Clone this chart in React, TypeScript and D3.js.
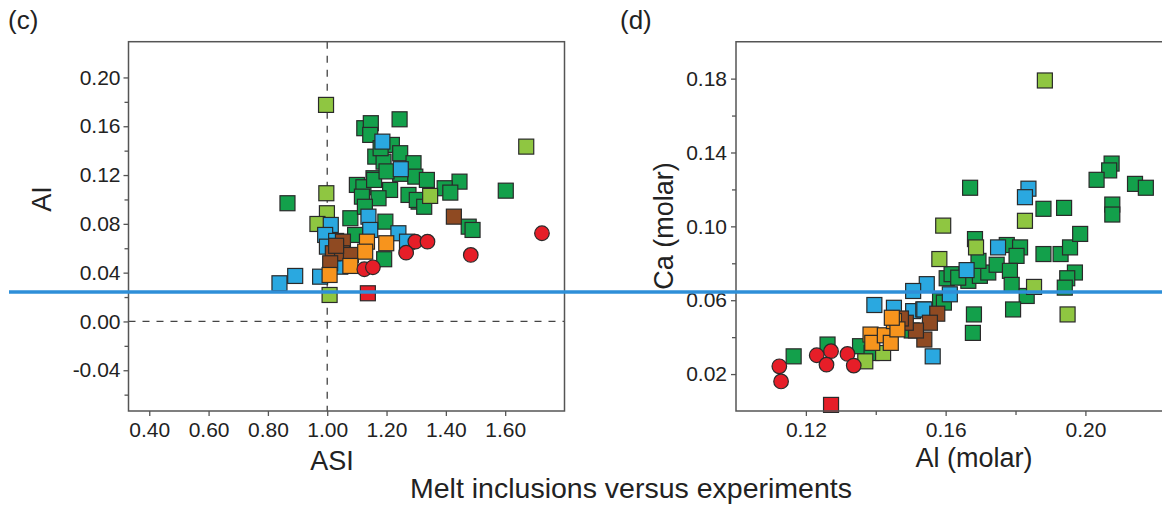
import React, { useEffect, useRef } from 'react';
import * as d3 from 'd3';

// ---- panel (c): ASI vs AI ----
const cDarkGreen: [number, number][] = [
  [0.866, 0.0969], [1.244, 0.1657], [1.125, 0.1584], [1.147, 0.1625], [1.145, 0.1529],
  [1.218, 0.1447], [1.246, 0.1379], [1.162, 0.1351], [1.19, 0.131], [1.291, 0.1297],
  [1.246, 0.121], [1.297, 0.1187], [1.336, 0.116], [1.156, 0.1174], [1.1, 0.1119],
  [1.122, 0.11], [1.212, 0.1078], [1.274, 0.1037], [1.173, 0.101], [1.117, 0.1023],
  [1.308, 0.0982], [1.446, 0.1146], [1.396, 0.1092], [1.415, 0.1056], [1.602, 0.1072],
  [1.477, 0.0777], [1.49, 0.075], [1.078, 0.0846], [1.196, 0.0818], [1.094, 0.0709],
  [1.192, 0.051], [1.158, 0.116], [1.2, 0.123], [1.302, 0.0996], [1.327, 0.094],
  [1.127, 0.094], [1.18, 0.142],
];
const cLightGreen: [number, number][] = [
  [0.996, 0.1775], [0.997, 0.1051], [0.999, 0.0887], [0.967, 0.0799], [1.347, 0.1029],
  [1.671, 0.1433], [1.008, 0.0217],
];
const cBlue: [number, number][] = [
  [1.186, 0.1474], [1.248, 0.1248], [1.139, 0.0859], [1.012, 0.0791], [1.145, 0.075],
  [0.993, 0.0709], [0.999, 0.0613], [1.24, 0.0723], [1.269, 0.0654], [0.976, 0.0367],
  [0.892, 0.0373], [0.839, 0.0313], [1.044, 0.0449], [1.03, 0.066],
];
const cBrown: [number, number][] = [
  [1.427, 0.0859], [1.053, 0.0654], [1.019, 0.0559], [1.05, 0.0559], [1.08, 0.0545],
  [1.01, 0.0477], [1.03, 0.062],
];
const cOrange: [number, number][] = [
  [1.134, 0.0654], [1.199, 0.0641], [1.128, 0.0572], [1.078, 0.0455], [1.008, 0.0381],
];
const cRedSquare: [number, number][] = [[1.137, 0.0231]];
const cRedCircle: [number, number][] = [
  [1.297, 0.0654], [1.338, 0.0654], [1.266, 0.0564], [1.125, 0.0428], [1.154, 0.0444],
  [1.484, 0.0545], [1.724, 0.0723],
];

// ---- panel (d): Al (molar) vs Ca (molar) ----
const dDarkGreen: [number, number][] = [
  [0.1165, 0.0296], [0.1262, 0.036], [0.1355, 0.0351], [0.1388, 0.0314], [0.1603, 0.0719],
  [0.1617, 0.0741], [0.1584, 0.0596], [0.1665, 0.0705], [0.1698, 0.0732], [0.1722, 0.075],
  [0.1746, 0.0792], [0.1694, 0.0813], [0.1684, 0.0931], [0.167, 0.1209], [0.1775, 0.0899],
  [0.1813, 0.0886], [0.1803, 0.084], [0.1784, 0.0759], [0.1789, 0.0683], [0.1832, 0.0623],
  [0.1793, 0.055], [0.1681, 0.0523], [0.1678, 0.0423], [0.188, 0.085], [0.1929, 0.085],
  [0.1956, 0.0886], [0.1985, 0.0959], [0.197, 0.075], [0.1948, 0.0719], [0.1941, 0.0668],
  [0.188, 0.1095], [0.1939, 0.11], [0.2077, 0.1118], [0.2077, 0.1064], [0.2075, 0.134],
  [0.2068, 0.1303], [0.2032, 0.1252], [0.2142, 0.123], [0.2173, 0.1209], [0.1503, 0.0436],
  [0.1595, 0.0587], [0.1636, 0.0722],
];
const dLightGreen: [number, number][] = [
  [0.1884, 0.179], [0.1827, 0.103], [0.1593, 0.1004], [0.1687, 0.0886], [0.1582, 0.0823],
  [0.1853, 0.0672], [0.1949, 0.0523], [0.137, 0.0269], [0.1421, 0.0314],
];
const dBlue: [number, number][] = [
  [0.1837, 0.1204], [0.1827, 0.1158], [0.175, 0.0886], [0.166, 0.0763], [0.1546, 0.0687],
  [0.1507, 0.065], [0.1612, 0.0632], [0.1507, 0.0541], [0.1536, 0.055], [0.1563, 0.0296],
  [0.1452, 0.0559], [0.1396, 0.0574], [0.1539, 0.055],
];
const dBrown: [number, number][] = [
  [0.1576, 0.0527], [0.1555, 0.0478], [0.1539, 0.0387], [0.1515, 0.0436], [0.1486, 0.0478],
  [0.1472, 0.0501],
];
const dOrange: [number, number][] = [
  [0.1385, 0.0414], [0.139, 0.0369], [0.1426, 0.041], [0.1443, 0.0369], [0.1452, 0.0487],
  [0.1462, 0.0442], [0.1446, 0.0505],
];
const dRedSquare: [number, number][] = [[0.1272, 0.0033]];
const dRedCircle: [number, number][] = [
  [0.1124, 0.0242], [0.1129, 0.016], [0.1231, 0.0302], [0.1272, 0.0324], [0.1259, 0.0251],
  [0.1319, 0.0309], [0.1337, 0.0246],
];

// ticks
const cYMajor = [0.2, 0.16, 0.12, 0.08, 0.04, 0, -0.04];
const cYMinor = [0.18, 0.14, 0.1, 0.06, 0.02, -0.02, -0.06];
const cXMajor = [0.4, 0.6, 0.8, 1.0, 1.2, 1.4, 1.6];
const dYMajor = [0.18, 0.14, 0.1, 0.06, 0.02];
const dYMinor = [0.16, 0.12, 0.08, 0.04];
const dXMajor = [0.12, 0.16, 0.2];
const dXMinor = [0.14, 0.18];

const COLORS = {
  darkGreen: '#13a04b',
  lightGreen: '#8fc641',
  blue: '#2aa8e0',
  brown: '#8f4a22',
  orange: '#f7941d',
  red: '#e61e28',
};

const FONT = '"Liberation Sans", Arial, sans-serif';

type Pt = [number, number];
type Series = { pts: Pt[]; color: string; shape: 'square' | 'circle' };

const W = 1162;
const H = 508;

export default function App() {
  const ref = useRef<SVGSVGElement>(null);

  useEffect(() => {
    const svg = d3.select(ref.current);
    svg.selectAll('*').remove();

    const fmt = (d: any) => (+d).toFixed(2);
    const frameColor = '#555';
    const textColor = '#222';

    const drawPoints = (g: any, x: any, y: any, series: Series[]) => {
      const sq = 15;
      series.forEach(s => {
        if (s.shape === 'square') {
          g.selectAll(null)
            .data(s.pts)
            .enter()
            .append('rect')
            .attr('x', (d: Pt) => x(d[0]) - sq / 2)
            .attr('y', (d: Pt) => y(d[1]) - sq / 2)
            .attr('width', sq)
            .attr('height', sq)
            .attr('fill', s.color)
            .attr('stroke', '#2a2a2a')
            .attr('stroke-width', 1.2);
        } else {
          g.selectAll(null)
            .data(s.pts)
            .enter()
            .append('circle')
            .attr('cx', (d: Pt) => x(d[0]))
            .attr('cy', (d: Pt) => y(d[1]))
            .attr('r', 7.3)
            .attr('fill', s.color)
            .attr('stroke', '#2a2a2a')
            .attr('stroke-width', 1.2);
        }
      });
    };

    const styleAxis = (ag: any, withText: boolean) => {
      ag.select('.domain').remove();
      ag.selectAll('line').attr('stroke', frameColor).attr('stroke-width', 1.3);
      if (withText) {
        ag.selectAll('text')
          .attr('fill', textColor)
          .style('font-family', FONT)
          .style('font-size', '21px');
      } else {
        ag.selectAll('text').remove();
      }
    };

    // ---------- PANEL (c) ----------
    const top = 41.7;
    const bottom = 411;
    const xC = d3.scaleLinear().domain([0.33, 1.8]).range([128.5, 564.5]);
    const yC = d3.scaleLinear().domain([-0.0734, 0.2293]).range([bottom, top]);

    const gC = svg.append('g');

    // dashed reference lines
    gC.append('line')
      .attr('x1', xC(1.0)).attr('x2', xC(1.0))
      .attr('y1', top).attr('y2', bottom)
      .attr('stroke', '#444').attr('stroke-width', 1.3)
      .attr('stroke-dasharray', '7,7');
    gC.append('line')
      .attr('x1', xC.range()[0]).attr('x2', xC.range()[1])
      .attr('y1', yC(0)).attr('y2', yC(0))
      .attr('stroke', '#444').attr('stroke-width', 1.3)
      .attr('stroke-dasharray', '7,7');

    drawPoints(gC, xC, yC, [
      { pts: cDarkGreen, color: COLORS.darkGreen, shape: 'square' },
      { pts: cLightGreen, color: COLORS.lightGreen, shape: 'square' },
      { pts: cBlue, color: COLORS.blue, shape: 'square' },
      { pts: cBrown, color: COLORS.brown, shape: 'square' },
      { pts: cOrange, color: COLORS.orange, shape: 'square' },
      { pts: cRedSquare, color: COLORS.red, shape: 'square' },
      { pts: cRedCircle, color: COLORS.red, shape: 'circle' },
    ]);

    // frame
    gC.append('rect')
      .attr('x', xC.range()[0]).attr('y', top)
      .attr('width', xC.range()[1] - xC.range()[0]).attr('height', bottom - top)
      .attr('fill', 'none').attr('stroke', frameColor).attr('stroke-width', 1.5);

    // axes
    const cy1 = gC.append('g').attr('transform', `translate(${xC.range()[0]},0)`)
      .call(d3.axisLeft(yC).tickValues(cYMajor).tickSize(5).tickPadding(3).tickFormat(fmt));
    styleAxis(cy1, true);
    const cy2 = gC.append('g').attr('transform', `translate(${xC.range()[0]},0)`)
      .call(d3.axisLeft(yC).tickValues(cYMinor).tickSize(4).tickFormat(() => ''));
    styleAxis(cy2, false);
    const cx1 = gC.append('g').attr('transform', `translate(0,${bottom})`)
      .call(d3.axisBottom(xC).tickValues(cXMajor).tickSize(5).tickPadding(6).tickFormat(fmt));
    styleAxis(cx1, true);

    // titles
    gC.append('text')
      .attr('transform', `translate(51,199) rotate(-90)`)
      .attr('text-anchor', 'middle')
      .attr('fill', textColor)
      .style('font-family', FONT).style('font-size', '27px')
      .text('AI');
    gC.append('text')
      .attr('x', 332).attr('y', 470)
      .attr('text-anchor', 'middle')
      .attr('fill', textColor)
      .style('font-family', FONT).style('font-size', '27px')
      .text('ASI');
    gC.append('text')
      .attr('x', 8).attr('y', 29)
      .attr('fill', textColor)
      .style('font-family', FONT).style('font-size', '26px')
      .text('(c)');

    // ---------- PANEL (d) ----------
    const xD = d3.scaleLinear().domain([0.1, 0.23]).range([736, 736 + 0.13 * 3494]);
    const yD = d3.scaleLinear().domain([0, 0.2]).range([bottom, top]);
    const gD = svg.append('g');

    drawPoints(gD, xD, yD, [
      { pts: dDarkGreen, color: COLORS.darkGreen, shape: 'square' },
      { pts: dLightGreen, color: COLORS.lightGreen, shape: 'square' },
      { pts: dBlue, color: COLORS.blue, shape: 'square' },
      { pts: dBrown, color: COLORS.brown, shape: 'square' },
      { pts: dOrange, color: COLORS.orange, shape: 'square' },
      { pts: dRedSquare, color: COLORS.red, shape: 'square' },
      { pts: dRedCircle, color: COLORS.red, shape: 'circle' },
    ]);

    const x0 = xD.range()[0];
    const x1 = xD.range()[1];
    gD.append('path')
      .attr('d', `M${x1},${top}H${x0}V${bottom}H${x1}`)
      .attr('fill', 'none').attr('stroke', frameColor).attr('stroke-width', 1.5);

    const dy1 = gD.append('g').attr('transform', `translate(${x0},0)`)
      .call(d3.axisLeft(yD).tickValues(dYMajor).tickSize(5).tickPadding(4).tickFormat(fmt));
    styleAxis(dy1, true);
    const dy2 = gD.append('g').attr('transform', `translate(${x0},0)`)
      .call(d3.axisLeft(yD).tickValues(dYMinor).tickSize(4).tickFormat(() => ''));
    styleAxis(dy2, false);
    const dx1 = gD.append('g').attr('transform', `translate(0,${bottom})`)
      .call(d3.axisBottom(xD).tickValues(dXMajor).tickSize(5).tickPadding(6).tickFormat(fmt));
    styleAxis(dx1, true);
    const dx2 = gD.append('g').attr('transform', `translate(0,${bottom})`)
      .call(d3.axisBottom(xD).tickValues(dXMinor).tickSize(4).tickFormat(() => ''));
    styleAxis(dx2, false);

    gD.append('text')
      .attr('transform', `translate(673,226) rotate(-90)`)
      .attr('text-anchor', 'middle')
      .attr('fill', textColor)
      .style('font-family', FONT).style('font-size', '27px')
      .text('Ca (molar)');
    gD.append('text')
      .attr('x', 974).attr('y', 467)
      .attr('text-anchor', 'middle')
      .attr('fill', textColor)
      .style('font-family', FONT).style('font-size', '27px')
      .text('Al (molar)');
    gD.append('text')
      .attr('x', 620).attr('y', 29)
      .attr('fill', textColor)
      .style('font-family', FONT).style('font-size', '26px')
      .text('(d)');

    // shared caption
    svg.append('text')
      .attr('x', 631).attr('y', 498)
      .attr('text-anchor', 'middle')
      .attr('fill', textColor)
      .style('font-family', FONT).style('font-size', '28.5px')
      .text('Melt inclusions versus experiments');

    // blue horizontal marker line across the figure
    svg.append('line')
      .attr('x1', 9).attr('x2', W)
      .attr('y1', 292).attr('y2', 292)
      .attr('stroke', '#2e8fd8').attr('stroke-width', 3.6);
  }, []);

  return (
    <svg
      ref={ref}
      width={W}
      height={H}
      style={{ position: 'absolute', left: 0, top: 0, background: '#fff' }}
    />
  );
}
